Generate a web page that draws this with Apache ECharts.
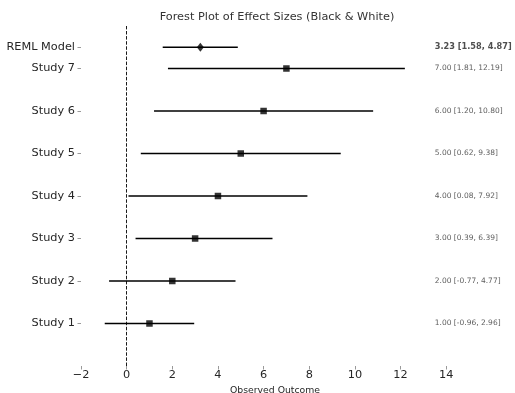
<!DOCTYPE html>
<html>
<head>
<meta charset="utf-8">
<script src="https://cdn.jsdelivr.net/npm/echarts@6/dist/echarts.min.js"></script>
<style>html,body{margin:0;padding:0;background:#fff;}#c{width:515px;height:393px;}</style>
</head>
<body>
<div id="c"></div>
<script>
const studyLabels = ['Study 1','Study 2','Study 3','Study 4','Study 5','Study 6','Study 7'];
const studyPositions = [1,2,3,4,5,6,7];
const studyEstimates = [1.00,2.00,3.00,4.00,5.00,6.00,7.00];
const studyLower = [-0.96,-0.77,0.39,0.08,0.62,1.20,1.81];
const studyUpper = [2.96,4.77,6.39,7.92,9.38,10.80,12.19];
const pooledLabel = 'REML Model';
const pooledPosition = 7.5;
const pooledEstimate = 3.23;
const pooledLower = 1.58;
const pooledUpper = 4.87;
const xTickValues = [-2,0,2,4,6,8,10,12,14];
const annotationX = 13.5;

const FONT = 'DejaVu Sans';
const fmt = v => v.toFixed(2);
const ciText = (e,l,u) => `${fmt(e)} [${fmt(l)}, ${fmt(u)}]`;

const yLabelMap = {};
studyPositions.forEach((p,i)=>{ yLabelMap[p] = studyLabels[i]; });
yLabelMap[pooledPosition] = pooledLabel;
const yTickValues = studyPositions.concat([pooledPosition]);

const barData = studyPositions.map((p,i)=>[studyLower[i], studyUpper[i], p, 0]);
barData.push([pooledLower, pooledUpper, pooledPosition, 1]);

const annData = studyPositions.map((p,i)=>({value:[annotationX, p], txt:ciText(studyEstimates[i], studyLower[i], studyUpper[i])}));
annData.push({value:[annotationX, pooledPosition], txt:ciText(pooledEstimate, pooledLower, pooledUpper),
  label:{fontWeight:'bold', fontSize:8.2, color:'#222'}});

const chart = echarts.init(document.getElementById('c'), null, {renderer:'canvas'});
chart.setOption({
  animation:false,
  backgroundColor:'#fff',
  title:{
    text:'Forest Plot of Effect Sizes (Black & White)',
    left:272, top:7, textAlign:'center',
    textStyle:{fontFamily:FONT, fontSize:11.3, fontWeight:'normal', color:'#333'}
  },
  grid:{left:81, right:46, top:26, bottom:27, containLabel:false, outerBoundsMode:'none'},
  xAxis:{
    type:'value', min:-2, max:15, interval:2,
    name:'Observed Outcome', nameLocation:'middle', nameGap:18,
    nameTextStyle:{fontFamily:FONT, fontSize:9.3, color:'#262626'},
    axisLine:{show:false, onZero:false},
    splitLine:{show:false},
    axisTick:{show:true, length:3.5, inside:false, customValues:xTickValues, lineStyle:{color:'#999', width:1}},
    axisLabel:{customValues:xTickValues, margin:4, fontFamily:FONT, fontSize:11.3, color:'#262626',
      formatter:v=>String(v).replace('-','\u2212')}
  },
  yAxis:{
    type:'value', min:0, max:8,
    axisLine:{show:false, onZero:false},
    splitLine:{show:false},
    axisTick:{show:true, length:3.5, customValues:yTickValues, lineStyle:{color:'#999', width:1}},
    axisLabel:{customValues:yTickValues, margin:6, fontFamily:FONT, fontSize:11.3, color:'#262626',
      formatter:v=>yLabelMap[v] || ''}
  },
  series:[
    {
      type:'custom',
      data:barData,
      renderItem:(params, api)=>{
        const a = api.coord([api.value(0), api.value(2)]);
        const b = api.coord([api.value(1), api.value(2)]);
        return {type:'line', shape:{x1:a[0], y1:a[1], x2:b[0], y2:b[1]},
          style:{stroke:'#000', lineWidth:1.6}};
      },
      z:2,
      markLine:{
        silent:true, symbol:'none', label:{show:false},
        lineStyle:{color:'#000', width:0.9, type:[3.5,1.6]},
        data:[{xAxis:0}]
      }
    },
    {
      type:'scatter', symbol:'rect', symbolSize:6.5,
      itemStyle:{color:'#000'},
      data:studyPositions.map((p,i)=>[studyEstimates[i], p]), z:3
    },
    {
      type:'scatter', symbol:'diamond', symbolSize:[7,9],
      itemStyle:{color:'#000'},
      data:[[pooledEstimate, pooledPosition]], z:3
    },
    {
      type:'scatter', symbolSize:0,
      data:annData,
      label:{show:true, position:'right', distance:0, fontFamily:FONT, color:'#333',
        formatter:p=>p.data.txt, fontSize:7.5},
      labelLayout:{hideOverlap:false},
      z:4
    }
  ]
});
</script>
</body>
</html>
